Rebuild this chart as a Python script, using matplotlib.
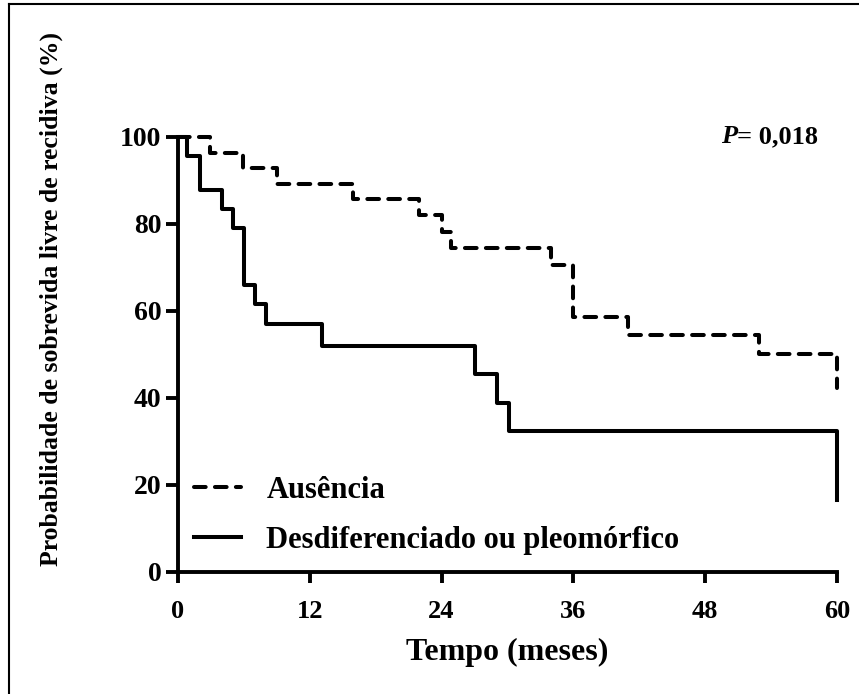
import matplotlib
matplotlib.use("Agg")
import matplotlib.pyplot as plt
from matplotlib.lines import Line2D

plt.rcParams['font.family'] = ['Liberation Serif', 'DejaVu Serif']
plt.rcParams['font.weight'] = 'bold'

# Kaplan-Meier curves (months, %)
aus_t = [0, 2.9, 5.9, 9.0, 15.9, 21.9, 24.0, 24.9, 34.0, 36.0, 41.0, 52.9, 60, 60]
aus_s = [100, 96.4, 92.9, 89.3, 85.7, 82.1, 78.2, 74.4, 70.6, 58.7, 54.5, 50.0, 50.0, 42.3]

des_t = [0, 0.8, 2.0, 4.0, 5.0, 6.0, 7.0, 8.0, 13.1, 27.0, 29.0, 30.1, 60, 60]
des_s = [100, 95.7, 87.8, 83.4, 79.0, 66.0, 61.6, 57.0, 52.0, 45.5, 38.9, 32.4, 32.4, 16.6]

xticks = [0, 12, 24, 36, 48, 60]
yticks = [0, 20, 40, 60, 80, 100]

fig = plt.figure(figsize=(8.59, 6.94), dpi=100)
ax = fig.add_axes([0.2072, 0.1758, 0.7672, 0.6268])

ax.step(aus_t, aus_s, where='post', color='black', lw=2.9,
        linestyle=(0, (2.9, 2.3)), dash_capstyle='round',
        label='Ausência', clip_on=False)
ax.step(des_t, des_s, where='post', color='black', lw=2.9,
        label='Desdiferenciado ou pleomórfico', clip_on=False)

ax.set_xlim(0, 60)
ax.set_ylim(0, 100)
ax.set_xticks(xticks)
ax.set_yticks(yticks)

for s in ['top', 'right']:
    ax.spines[s].set_visible(False)
for s in ['left', 'bottom']:
    ax.spines[s].set_linewidth(2.8)

ax.tick_params(axis='y', length=9, width=2.8, pad=3, labelsize=20)
ax.tick_params(axis='x', length=8, width=2.8, pad=12, labelsize=19)

ax.set_xlabel('Tempo (meses)', fontsize=23, fontweight='bold', labelpad=11)
ax.set_ylabel('Probabilidade de sobrevida livre de recidiva (%)', fontsize=18.5,
              fontweight='bold')
ax.yaxis.set_label_coords(-0.1745, 0.628)

t2 = ax.text(58.3, 100, '= 0,018', ha='right', va='center', fontsize=19,
             fontweight='bold')
ax.annotate('P', xy=(0, 0.5), xycoords=t2, ha='right', va='center',
            fontsize=19, fontweight='bold', style='italic')

ax.legend(loc='lower left', bbox_to_anchor=(0.006, 0.011), frameon=False,
          fontsize=22, handlelength=1.54, handletextpad=0.82,
          labelspacing=0.69, borderaxespad=0)

# outer frame (left and top edges)
fig.add_artist(Line2D([9 / 859, 9 / 859], [0, 1 - 4 / 694], transform=fig.transFigure,
                      color='black', lw=1.5))
fig.add_artist(Line2D([9 / 859, 1], [1 - 4 / 694, 1 - 4 / 694], transform=fig.transFigure,
                      color='black', lw=1.5))

fig.savefig('out.png', dpi=100)
